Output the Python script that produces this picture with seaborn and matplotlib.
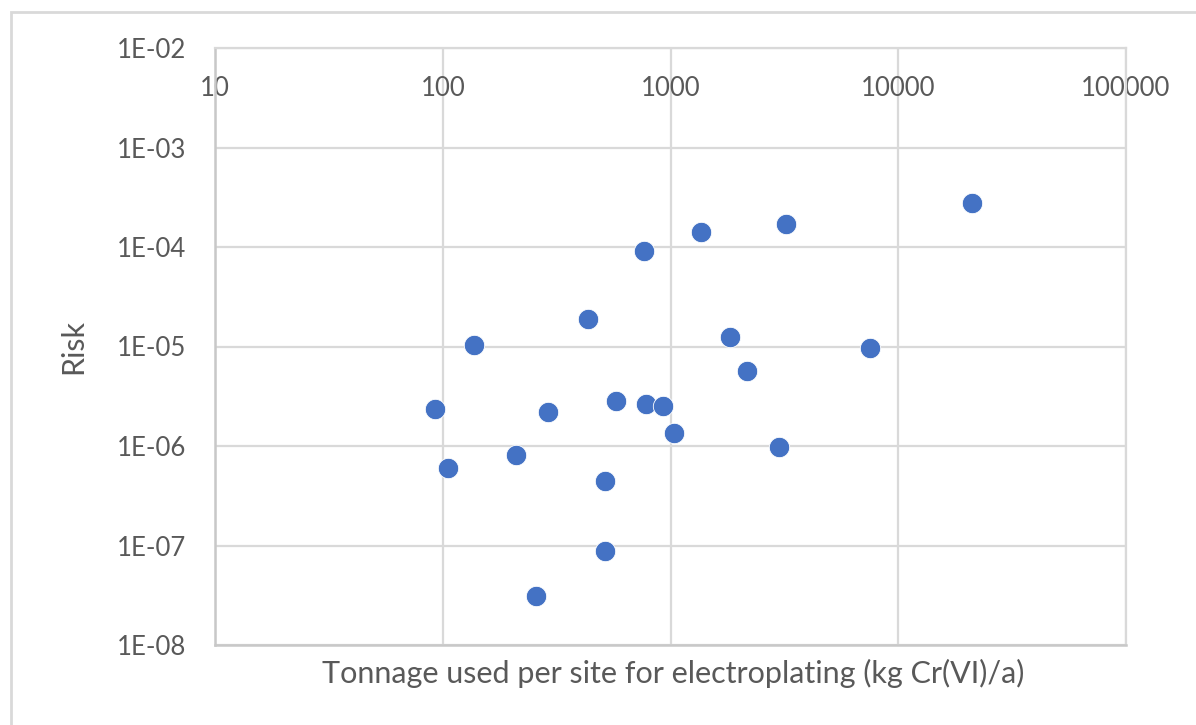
import matplotlib
matplotlib.use("Agg")
import matplotlib.pyplot as plt
import seaborn as sns
import pandas as pd
from matplotlib.patches import Rectangle

# ---- data ----
tonnage = [92, 105, 137, 209, 289, 257, 433, 517, 517, 578, 762, 782, 923,
           1032, 1360, 1817, 2171, 3000, 3212, 7500, 20980]
risk = [2.36e-6, 6.0e-7, 1.04e-5, 8.1e-7, 2.2e-6, 3.1e-8, 1.87e-5, 4.5e-7,
        8.8e-8, 2.86e-6, 9.2e-5, 2.62e-6, 2.55e-6, 1.35e-6, 1.43e-4,
        1.25e-5, 5.7e-6, 9.7e-7, 1.72e-4, 9.7e-6, 2.78e-4]
x_ticks = [10, 100, 1000, 10000, 100000]
x_tick_labels = ["10", "100", "1000", "10000", "100000"]
y_ticks = [1e-8, 1e-7, 1e-6, 1e-5, 1e-4, 1e-3, 1e-2]
y_tick_labels = ["1E-08", "1E-07", "1E-06", "1E-05", "1E-04", "1E-03", "1E-02"]
x_title = "Tonnage used per site for electroplating (kg Cr(VI)/a)"
y_title = "Risk"

df = pd.DataFrame({"tonnage": tonnage, "risk": risk})

sns.set_theme(style="white")
plt.rcParams["font.family"] = ["Lato", "DejaVu Sans"]

TEXT = "#595959"
GRID = "#D9D9D9"

fig = plt.figure(figsize=(11.96, 7.25), dpi=100)
W, H = 1196, 725
ax = fig.add_axes([215 / W, 1 - 645 / H, (1126 - 215) / W, (645 - 48) / H])

# outer chart frame (only top/left visible in the reference)
fig.patches.append(Rectangle((11 / W, -0.1), 1.2, (1 - 12 / H) + 0.1,
                             transform=fig.transFigure, fill=False,
                             edgecolor="#D9D9D9", linewidth=2.0, zorder=0))

sns.scatterplot(data=df, x="tonnage", y="risk", ax=ax, s=215,
                color="#4472C4", edgecolor="white", linewidth=0.6, zorder=3)

ax.set_xscale("log")
ax.set_yscale("log")
ax.set_xlim(10, 100000)
ax.set_ylim(1e-8, 1e-2)
ax.minorticks_off()
ax.set_xticks(x_ticks)
ax.set_xticklabels(x_tick_labels)
ax.set_yticks(y_ticks)
ax.set_yticklabels(y_tick_labels)

ax.grid(True, color=GRID, linewidth=1.6, zorder=0)
ax.set_axisbelow(True)
for side in ["top", "right"]:
    ax.spines[side].set_color(GRID)
    ax.spines[side].set_linewidth(1.6)
for side in ["left", "bottom"]:
    ax.spines[side].set_color("#C8C8C8")
    ax.spines[side].set_linewidth(1.8)

ax.xaxis.tick_top()
ax.tick_params(axis="x", length=0, pad=-29, labelsize=18.5, labelcolor=TEXT)
ax.tick_params(axis="y", length=0, pad=21, labelsize=18.5, labelcolor=TEXT)
for t in ax.xaxis.get_major_ticks():
    t.label2.set_va("center")

ax.xaxis.set_label_position("bottom")
ax.set_xlabel(x_title, fontsize=22, color=TEXT, va="center")
ax.xaxis.set_label_coords(0.503, -0.047)
ax.set_ylabel(y_title, fontsize=22, color=TEXT, va="center")
ax.yaxis.set_label_coords(-0.156, 0.5)

fig.savefig("out.png", dpi=100, facecolor="white")
